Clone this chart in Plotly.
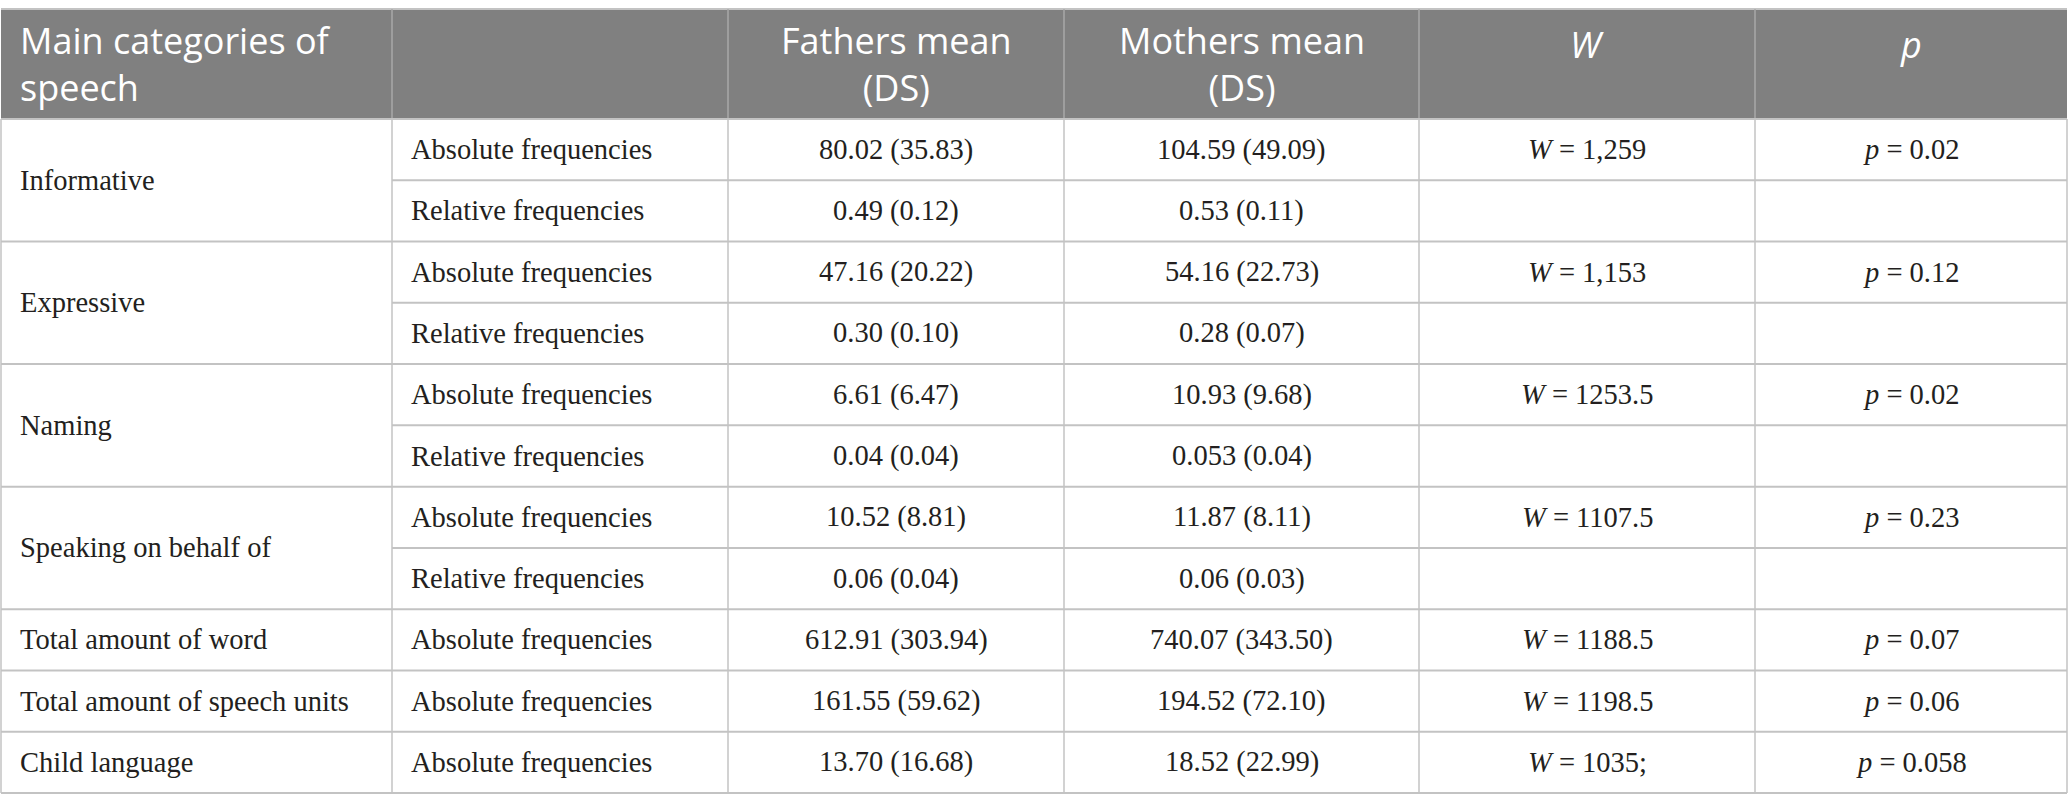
import plotly.graph_objects as go

# table content
header_text = [
    "Main categories of<br>speech",
    "",
    "Fathers mean<br>(DS)",
    "Mothers mean<br>(DS)",
    "<i>W</i>",
    "<i>p</i>",
]
categories = ["Informative", "Expressive", "Naming", "Speaking on behalf of",
              "Total amount of word", "Total amount of speech units", "Child language"]
measures = ["Absolute frequencies", "Relative frequencies"]
has_relative = [True, True, True, True, False, False, False]

fathers_abs = ["80.02 (35.83)", "47.16 (20.22)", "6.61 (6.47)", "10.52 (8.81)",
               "612.91 (303.94)", "161.55 (59.62)", "13.70 (16.68)"]
mothers_abs = ["104.59 (49.09)", "54.16 (22.73)", "10.93 (9.68)", "11.87 (8.11)",
               "740.07 (343.50)", "194.52 (72.10)", "18.52 (22.99)"]
fathers_rel = ["0.49 (0.12)", "0.30 (0.10)", "0.04 (0.04)", "0.06 (0.04)"]
mothers_rel = ["0.53 (0.11)", "0.28 (0.07)", "0.053 (0.04)", "0.06 (0.03)"]
w_values = ["1,259", "1,153", "1253.5", "1107.5", "1188.5", "1198.5", "1035;"]
p_values = ["0.02", "0.12", "0.02", "0.23", "0.07", "0.06", "0.058"]

# layout of the grid (pixels)
W_PX, H_PX = 2068, 812
col_edges = [1, 392, 728, 1064, 1419, 1755, 2067]
header_top, header_bottom, table_bottom = 9, 119, 793
pad = 17
header_bg = "#808080"
grid = "#c3c3c3"
header_grid = "#a9a9a9"
text_color = "#231f20"
body_font = dict(family="Liberation Serif", size=28.5, color=text_color)
head_font = dict(family="Open Sans", size=36, color="white")

# build the row list: (category index, measure index, first row of group, rows in group)
rows = []
for i, cat in enumerate(categories):
    n = 2 if has_relative[i] else 1
    for m in range(n):
        rows.append((i, m, m == 0, n))
n_rows = len(rows)
row_h = (table_bottom - header_bottom) / n_rows

def row_top(r):
    return header_bottom + r * row_h

fig = go.Figure()
shapes = []
annotations = []

# header background
shapes.append(dict(type="rect", xref="x", yref="y", x0=col_edges[0], x1=col_edges[-1],
                   y0=header_top, y1=header_bottom, fillcolor=header_bg, line_width=0, layer="below"))
# top border
shapes.append(dict(type="line", xref="x", yref="y", x0=col_edges[0], x1=col_edges[-1],
                   y0=header_top, y1=header_top, line=dict(color=grid, width=2)))
# header vertical separators
for x in col_edges[1:-1]:
    shapes.append(dict(type="line", xref="x", yref="y", x0=x, x1=x, y0=header_top, y1=header_bottom,
                       line=dict(color=header_grid, width=1.5)))

# header text
for c, txt in enumerate(header_text):
    if not txt:
        continue
    two_lines = "<br>" in txt
    y = 64 if two_lines else 44
    if c == 0:
        x, anchor = col_edges[0] + pad, "left"
    else:
        x, anchor = (col_edges[c] + col_edges[c + 1]) / 2, "center"
    annotations.append(dict(x=x, y=y, xref="x", yref="y", text=txt, showarrow=False,
                            xanchor=anchor, yanchor="middle", align=anchor, font=head_font))

# body grid: vertical lines
for x in col_edges:
    shapes.append(dict(type="line", xref="x", yref="y", x0=x, x1=x, y0=header_bottom, y1=table_bottom,
                       line=dict(color=grid, width=1.5)))
# horizontal lines (merged first-column cells skip the inner line)
for r in range(n_rows + 1):
    y = row_top(r)
    x0 = col_edges[0]
    if 0 < r < n_rows and not rows[r][2]:
        x0 = col_edges[1]
    shapes.append(dict(type="line", xref="x", yref="y", x0=x0, x1=col_edges[-1], y0=y, y1=y,
                       line=dict(color=grid, width=2)))

# body text
for r, (i, m, first, n) in enumerate(rows):
    yc = row_top(r) + row_h / 2
    if first:
        ycat = row_top(r) + n * row_h / 2
        annotations.append(dict(x=col_edges[0] + pad, y=ycat, xref="x", yref="y", text=categories[i],
                                showarrow=False, xanchor="left", yanchor="middle", font=body_font))
    annotations.append(dict(x=col_edges[1] + pad, y=yc, xref="x", yref="y", text=measures[m],
                            showarrow=False, xanchor="left", yanchor="middle", font=body_font))
    if m == 0:
        cells = [fathers_abs[i], mothers_abs[i], "<i>W</i> = " + w_values[i], "<i>p</i> = " + p_values[i]]
    else:
        cells = [fathers_rel[i], mothers_rel[i], "", ""]
    for c, txt in enumerate(cells):
        if not txt:
            continue
        xc = (col_edges[c + 2] + col_edges[c + 3]) / 2
        annotations.append(dict(x=xc, y=yc, xref="x", yref="y", text=txt, showarrow=False,
                                xanchor="center", yanchor="middle", font=body_font))

fig.add_trace(go.Scatter(x=[0, W_PX], y=[0, H_PX], mode="markers", marker_opacity=0,
                         hoverinfo="skip", showlegend=False))
fig.update_layout(
    width=W_PX, height=H_PX,
    margin=dict(l=0, r=0, t=0, b=0),
    paper_bgcolor="white", plot_bgcolor="white",
    xaxis=dict(range=[0, W_PX], visible=False, fixedrange=True),
    yaxis=dict(range=[H_PX, 0], visible=False, fixedrange=True),
    shapes=shapes, annotations=annotations, showlegend=False,
)
# drop the browser's default page margin so the table sits flush like the reference
fig.write_html("out.html", config={"displayModeBar": False},
               post_script="document.body.style.margin='0';")
